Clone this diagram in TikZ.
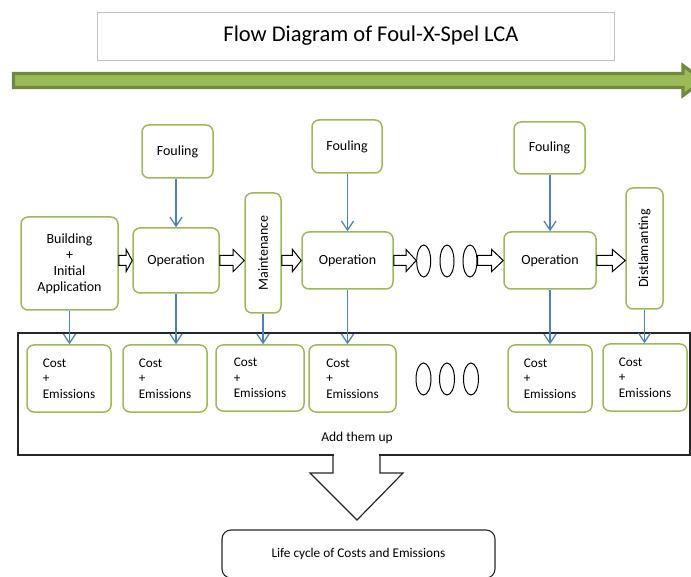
\documentclass[tikz,border=0pt]{standalone}
\usepackage{fontspec}
\setmainfont{Carlito}
\usetikzlibrary{arrows.meta,calc,shapes.geometric}
\definecolor{boxgreen}{HTML}{9BBB59}
\definecolor{darkgreen}{HTML}{71893F}
\definecolor{arrblue}{HTML}{4F81BD}
\definecolor{titlegray}{HTML}{BFBFBF}
\tikzset{
 gbox/.style={draw=boxgreen, line width=1.5pt, rounded corners=7pt, fill=white, align=center, inner sep=0pt, font=\fontsize{14}{16}\selectfont},
 cbox/.style={gbox, align=left, font=\fontsize{13.2}{15.5}\selectfont},
 txt/.style={inner sep=0pt, font=\fontsize{14}{16}\selectfont},
 barrow/.style={draw=arrblue, line width=1.3pt, -{Straight Barb[length=9pt,width=12pt]}},
 harr/.style={draw=black, line width=1pt, fill=white, line join=miter},
 oval/.style={draw, ellipse, line width=1pt, minimum width=14pt, minimum height=32pt, inner sep=0pt},
}
\newcommand\harrow[2]{\draw[harr] let \p1=(#1), \p2=(#2), \n1={0.55*(\x2-\x1)} in
  (\x1,{\y1+5pt}) -- ({\x1+\n1},{\y1+5pt}) -- ({\x1+\n1},{\y1+11pt}) -- (\x2,\y1)
  -- ({\x1+\n1},{\y1-11pt}) -- ({\x1+\n1},{\y1-5pt}) -- (\x1,{\y1-5pt}) -- cycle;}
\begin{document}
\begin{tikzpicture}[x=1pt,y=-1pt]
\useasboundingbox (0,0) rectangle (691,577);
\clip (0,0) rectangle (691,577);
% title
\node[draw=titlegray, line width=0.8pt, minimum width=517pt, minimum height=48pt, inner sep=0pt] (title) at (355.5,36) {};
\node[inner sep=0pt, font=\fontsize{22.5}{26}\selectfont] (titlet) at (371,36) {Flow Diagram of Foul-X-Spel LCA};
% green timeline arrow
\draw[draw=darkgreen, line width=3.2pt, fill=boxgreen, line join=miter]
  (13.5,73.5) -- (683,73.5) -- (683,65.5) -- (703,80.5) -- (683,95.5) -- (683,87.5) -- (13.5,87.5) -- cycle;
% fouling boxes
\node[gbox, minimum width=71pt, minimum height=53pt] (fo1) at (177.5,151.5) {Fouling};
\node[gbox, minimum width=70pt, minimum height=53pt] (fo2) at (347,146.5) {Fouling};
\node[gbox, minimum width=71pt, minimum height=52pt] (fo3) at (549.5,148) {Fouling};
% main row
\node[gbox, minimum width=97pt, minimum height=93pt] (bld) at (69.5,263.5) {Building\\+\\Initial\\Application};
\node[gbox, minimum width=86pt, minimum height=65pt] (op1) at (176,260.5) {Operation};
\node[gbox, minimum width=36pt, minimum height=120pt] (mnt) at (263,253) {};
\node[txt, rotate=90] (mntt) at (mnt) {Maintenance};
\node[gbox, minimum width=91pt, minimum height=57pt] (op2) at (347.5,260.5) {Operation};
\node[oval] (e1) at (423.7,261) {};
\node[oval] (e2) at (447,261) {};
\node[oval] (e3) at (470,261) {};
\node[gbox, minimum width=92pt, minimum height=57pt] (op3) at (550,260.5) {Operation};
\node[gbox, minimum width=37pt, minimum height=121pt] (dst) at (644.5,248.5) {};
\node[txt, rotate=90] (dstt) at (dst) {Distlamanting};
% hollow block arrows
\harrow{bld.east |- op1.west}{op1.west}
\harrow{op1.east}{mnt.west |- op1.east}
\harrow{mnt.east |- op2.west}{op2.west}
\harrow{op2.east}{e1.west}
\harrow{e3.east |- op3.west}{op3.west}
\harrow{op3.east}{dst.west |- op3.east}
% summation box
\node[draw=black!85, line width=1.2pt, minimum width=672pt, minimum height=122pt, inner sep=0pt] (sumbox) at (354,394) {};
\node[txt, font=\fontsize{13.5}{16}\selectfont] (add) at (357,438) {Add them up};
% cost boxes
\node[cbox, minimum width=84pt, minimum height=67pt] (c1) at (69,378.5) {Cost\\+\\Emissions};
\node[cbox, minimum width=84pt, minimum height=67pt] (c2) at (165,378.5) {Cost\\+\\Emissions};
\node[cbox, minimum width=88pt, minimum height=66pt] (c3) at (260,378) {Cost\\+\\Emissions};
\node[cbox, minimum width=87pt, minimum height=67pt] (c4) at (352.5,378.5) {Cost\\+\\Emissions};
\node[oval, minimum width=15pt] (o1) at (423.5,379) {};
\node[oval, minimum width=15pt] (o2) at (447,379) {};
\node[oval, minimum width=15pt] (o3) at (471,379) {};
\node[cbox, minimum width=84pt, minimum height=67pt] (c5) at (550,378.5) {Cost\\+\\Emissions};
\node[cbox, minimum width=84pt, minimum height=67pt] (c6) at (645,377.5) {Cost\\+\\Emissions};
% blue arrows
\draw[barrow] (fo1.south -| op1.north) -- (op1.north);
\draw[barrow] (fo2.south -| op2.north) -- (op2.north);
\draw[barrow] (fo3.south -| op3.north) -- (op3.north);
\draw[barrow] (bld.south) -- (bld.south |- c1.north);
\draw[barrow] (op1.south) -- (op1.south |- c2.north);
\draw[barrow] (mnt.south) -- (mnt.south |- c3.north);
\draw[barrow] (op2.south) -- (op2.south |- c4.north);
\draw[barrow] (op3.south) -- (op3.south |- c5.north);
\draw[barrow] (dst.south) -- (dst.south |- c6.north);
% big down arrow
\fill[white] (334,452) rectangle (379,458);
\draw[line width=1.2pt, draw=black!85, line join=miter] (333,455) -- (333,473) -- (310,473) -- (357,520) -- (403,473) -- (380,473) -- (380,455);
% result box
\node[draw=black!85, line width=1.1pt, rounded corners=9pt, minimum width=273pt, minimum height=48pt, inner sep=0pt, font=\fontsize{13.3}{15}\selectfont] (life) at (358.5,554) {Life cycle of Costs and Emissions};
\end{tikzpicture}
\end{document}
